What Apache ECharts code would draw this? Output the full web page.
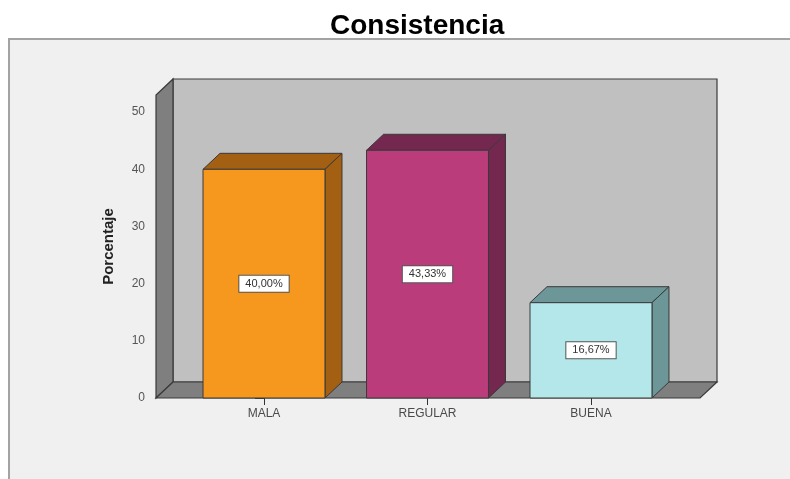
<!DOCTYPE html>
<html>
<head>
<meta charset="utf-8">
<script src="https://cdn.jsdelivr.net/npm/echarts@6/dist/echarts.min.js"></script>
<style>
html,body{margin:0;padding:0;background:#ffffff;}
#chart{width:790px;height:479px;}
</style>
</head>
<body>
<div id="chart"></div>
<script>
// ---- data ----
const categories = ['MALA', 'REGULAR', 'BUENA'];
const percentages = [40.00, 43.33, 16.67];
const yTickValues = [0, 10, 20, 30, 40, 50];
const titleText = 'Consistencia';
const yAxisTitle = 'Porcentaje';

// ---- styles ----
const frontColors = ['#f7981e', '#ba3c7b', '#b4e7e9'];
const shadeColors = ['#a35f12', '#74284f', '#6c9697'];
const DEPTH_X = 17, DEPTH_Y = -16;
const BAR_RATIO = 0.746;
const EDGE = '#3a3a3a';
const FONT = 'Liberation Sans, Arial, sans-serif';

const chart = echarts.init(document.getElementById('chart'), null, {renderer: 'canvas'});

function renderWalls(params, api) {
  const cs = params.coordSys;
  const x = cs.x, y = cs.y, w = cs.width, h = cs.height;
  const yb = y + h;
  return {
    type: 'group',
    children: [
      { type: 'rect', shape: {x: x + DEPTH_X, y: y + DEPTH_Y, width: w, height: h},
        style: {fill: '#c0c0c0', stroke: EDGE, lineWidth: 1.2} },
      { type: 'polygon', shape: {points: [[x, yb], [x, y], [x + DEPTH_X, y + DEPTH_Y], [x + DEPTH_X, yb + DEPTH_Y]]},
        style: {fill: '#7f7f7f', stroke: EDGE, lineWidth: 1.2} },
      { type: 'polygon', shape: {points: [[x, yb], [x + w, yb], [x + w + DEPTH_X, yb + DEPTH_Y], [x + DEPTH_X, yb + DEPTH_Y]]},
        style: {fill: '#7f7f7f', stroke: EDGE, lineWidth: 1.2} }
    ]
  };
}

function renderBar(params, api) {
  const i = api.value(0), v = api.value(1);
  const base = api.coord([i, 0]);
  const top = api.coord([i, v]);
  const bw = api.size([1, 0])[0] * BAR_RATIO;
  const xl = base[0] - bw / 2, xr = base[0] + bw / 2;
  const yb = base[1], yt = top[1];
  const idx = params.dataIndex;
  const label = v.toFixed(2).replace('.', ',') + '%';
  return {
    type: 'group',
    children: [
      { type: 'polygon', shape: {points: [[xl, yt], [xr, yt], [xr + DEPTH_X, yt + DEPTH_Y], [xl + DEPTH_X, yt + DEPTH_Y]]},
        style: {fill: shadeColors[idx], stroke: EDGE, lineWidth: 1} },
      { type: 'polygon', shape: {points: [[xr, yt], [xr, yb], [xr + DEPTH_X, yb + DEPTH_Y], [xr + DEPTH_X, yt + DEPTH_Y]]},
        style: {fill: shadeColors[idx], stroke: EDGE, lineWidth: 1} },
      { type: 'rect', shape: {x: xl, y: yt, width: bw, height: yb - yt},
        style: {fill: frontColors[idx], stroke: EDGE, lineWidth: 1} },
      { type: 'text', z2: 10,
        style: {text: label, x: base[0], y: (yb + yt) / 2, align: 'center', verticalAlign: 'middle',
          fill: '#333333', fontSize: 11, fontFamily: FONT,
          backgroundColor: '#ffffff', borderColor: '#555555', borderWidth: 1, padding: [3, 6, 2, 6]} }
    ]
  };
}

const option = {
  backgroundColor: '#ffffff',
  animation: false,
  title: {
    text: titleText,
    left: 325, top: 7,
    textStyle: {fontSize: 28, fontWeight: 'bold', color: '#000000', fontFamily: FONT}
  },
  graphic: [
    { type: 'rect', z: -10, shape: {x: 9, y: 39, width: 800, height: 460},
      style: {fill: '#f0f0f0', stroke: '#a3a3a3', lineWidth: 2} }
  ],
  grid: {left: 156, right: 90, top: 95, bottom: 81, containLabel: false},
  xAxis: {
    type: 'value', min: -0.6606, max: 2.6667,
    axisLine: {show: false},
    splitLine: {show: false},
    axisTick: {show: true, customValues: [0, 1, 2], length: 7, lineStyle: {color: '#333333', width: 1}},
    axisLabel: {show: true, customValues: [0, 1, 2], margin: 10, color: '#4a4a4a', fontSize: 12,
      fontFamily: FONT,
      formatter: function (val) { return categories[Math.round(val)] || ''; }}
  },
  yAxis: {
    type: 'value', min: 0, max: 53,
    name: yAxisTitle, nameLocation: 'middle', nameGap: 40, nameRotate: 90,
    nameTextStyle: {fontSize: 15, fontWeight: 'bold', color: '#222222', fontFamily: FONT},
    axisLine: {show: false},
    splitLine: {show: false},
    axisTick: {show: true, customValues: yTickValues, length: 9, lineStyle: {color: '#333333', width: 1}},
    axisLabel: {show: true, customValues: yTickValues, margin: 11, color: '#555555', fontSize: 12,
      fontFamily: FONT}
  },
  series: [
    { type: 'custom', name: 'walls', z: 1, silent: true, renderItem: renderWalls, data: [[0, 0]] },
    { type: 'custom', name: 'Porcentaje', z: 5, renderItem: renderBar,
      encode: {x: 0, y: 1},
      data: categories.map(function (c, i) { return [i, percentages[i]]; }) }
  ]
};
chart.setOption(option);
</script>
</body>
</html>
